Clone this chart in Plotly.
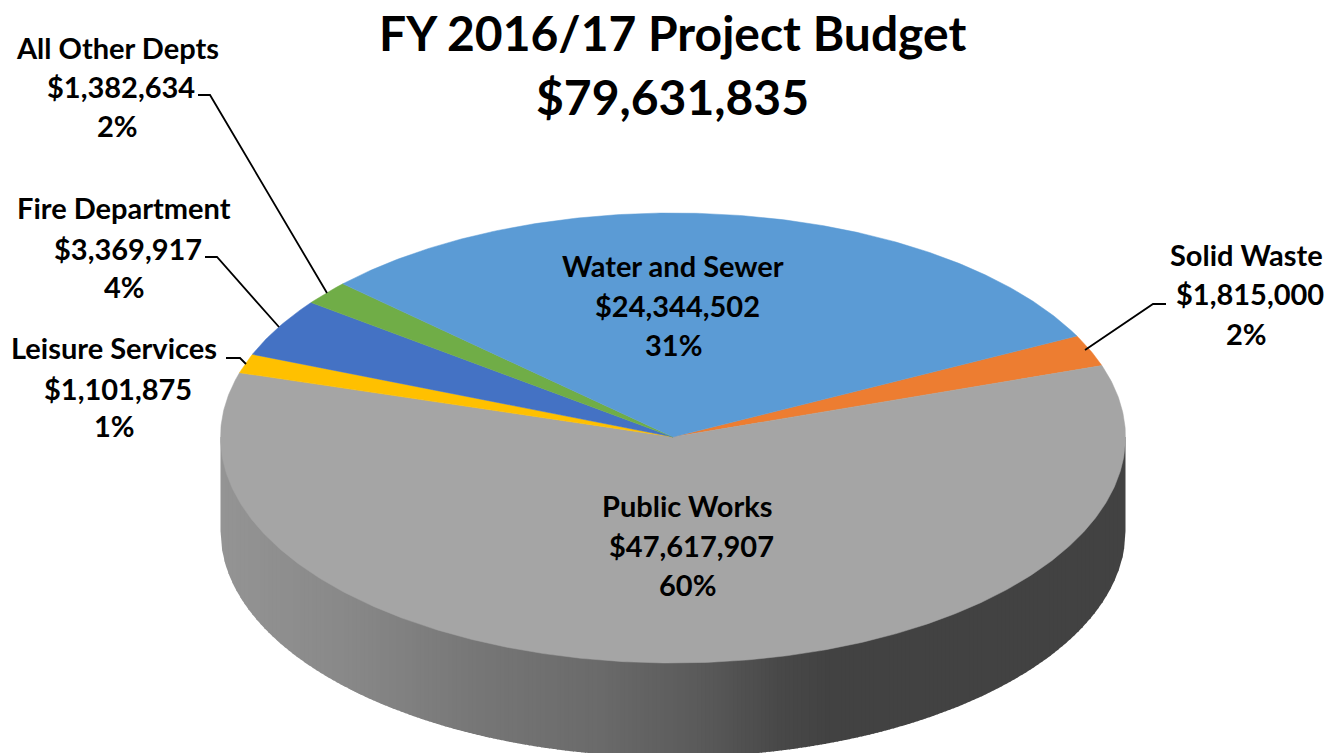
import numpy as np
import plotly.graph_objects as go

# ---- data -------------------------------------------------------------
departments = ["Solid Waste", "Public Works", "Leisure Services",
               "Fire Department", "All Other Depts", "Water and Sewer"]
budgets = [1815000, 47617907, 1101875, 3369917, 1382634, 24344502]
colors = ["#ED7D31", "#A5A5A5", "#FFC000", "#4472C4", "#70AD47", "#5B9BD5"]
title_lines = ["FY 2016/17 Project Budget", "$79,631,835"]

# label layout: centre x of name/percent line, centre x of amount line, y of 3 lines
label_x = [1246, 687, 114, 124, 117, 673]
amount_x = [1250, 691, 118, 128, 121, 677]
label_y = [[254, 293, 333], [505, 545, 584], [347, 388, 425],
           [207, 248, 286], [47, 86, 125], [265, 305, 344]]

# leader lines (page coordinates of each polyline)
leaders = {
    "Solid Waste": ([1166, 1153, 1085], [304, 304, 350]),
    "Leisure Services": ([226, 240, 246], [358, 358, 364]),
    "Fire Department": ([205, 217, 279], [257, 257, 327]),
    "All Other Depts": ([198, 210, 327], [95, 95, 293]),
}

# pie geometry / wall shading
CX, CY, RX, RY_UP, RY_DOWN, DEPTH = 673, 437, 452.5, 224, 226, 94
START_DEG = 26.8
wall_stop_x = [221, 350, 480, 600, 700, 780, 830, 1126]
wall_stop_v = [148, 136, 118, 106, 90, 72, 66, 66]
FONT = "Lato"

# ---- figure -----------------------------------------------------------
fig = go.Figure()


def wall_bottom(x):
    t = np.clip((x - CX) / RX, -1, 1)
    return CY + DEPTH + RY_DOWN * np.sqrt(1 - t ** 2)


edges = np.linspace(CX - RX, CX + RX, 227)
for x0, x1 in zip(edges[:-1], edges[1:]):
    xa = x0 + 0.0
    xb = min(x1 + 1.0, CX + RX)
    xs = np.linspace(xa, xb, 4)
    v = int(round(np.interp((x0 + x1) / 2, wall_stop_x, wall_stop_v)))
    fig.add_trace(go.Scatter(
        x=[xa] + list(xs) + [xb, xa],
        y=[CY] + list(wall_bottom(xs)) + [CY, CY],
        mode="lines", fill="toself", fillcolor=f"rgb({v},{v},{v})",
        line=dict(width=0), hoverinfo="skip", showlegend=False))

total = sum(budgets)
angle = START_DEG
for name, val, col in zip(departments, budgets, colors):
    sweep = val / total * 360
    th = np.radians(np.linspace(angle, angle - sweep, max(int(sweep * 2), 8)))
    s = np.sin(th)
    fig.add_trace(go.Scatter(
        x=[CX] + list(CX + RX * np.cos(th)) + [CX],
        y=[CY] + list(CY - np.where(s > 0, RY_UP, RY_DOWN) * s) + [CY],
        mode="lines", fill="toself", fillcolor=col,
        line=dict(width=0.5, color=col), name=name, showlegend=False,
        hoverinfo="skip"))
    angle -= sweep

for name, (lx, ly) in leaders.items():
    fig.add_trace(go.Scatter(x=lx, y=ly, mode="lines",
                             line=dict(color="black", width=1.8),
                             hoverinfo="skip", showlegend=False))

annotations = []
for i, name in enumerate(departments):
    texts = [name, f"${budgets[i]:,}", f"{budgets[i] / total * 100:.0f}%"]
    xs = [label_x[i], amount_x[i], label_x[i]]
    for t, x, y in zip(texts, xs, label_y[i]):
        annotations.append(dict(x=x, y=y, text=f"<b>{t}</b>", showarrow=False,
                                xanchor="center", yanchor="middle",
                                font=dict(family=FONT, size=29, color="black")))
for t, y in zip(title_lines, [32, 96]):
    annotations.append(dict(x=672, y=y, text=f"<b>{t}</b>", showarrow=False,
                            xanchor="center", yanchor="middle",
                            font=dict(family=FONT, size=48, color="black")))

fig.update_layout(
    width=1337, height=753, margin=dict(l=0, r=0, t=0, b=0),
    paper_bgcolor="white", plot_bgcolor="white", annotations=annotations,
    xaxis=dict(range=[0, 1337], visible=False, fixedrange=True),
    yaxis=dict(range=[753, 0], visible=False, fixedrange=True),
    showlegend=False, hovermode=False)

fig.write_html("out.html", config=dict(displayModeBar=False),
               post_script="document.body.style.margin='0';document.documentElement.style.overflow='hidden';")
